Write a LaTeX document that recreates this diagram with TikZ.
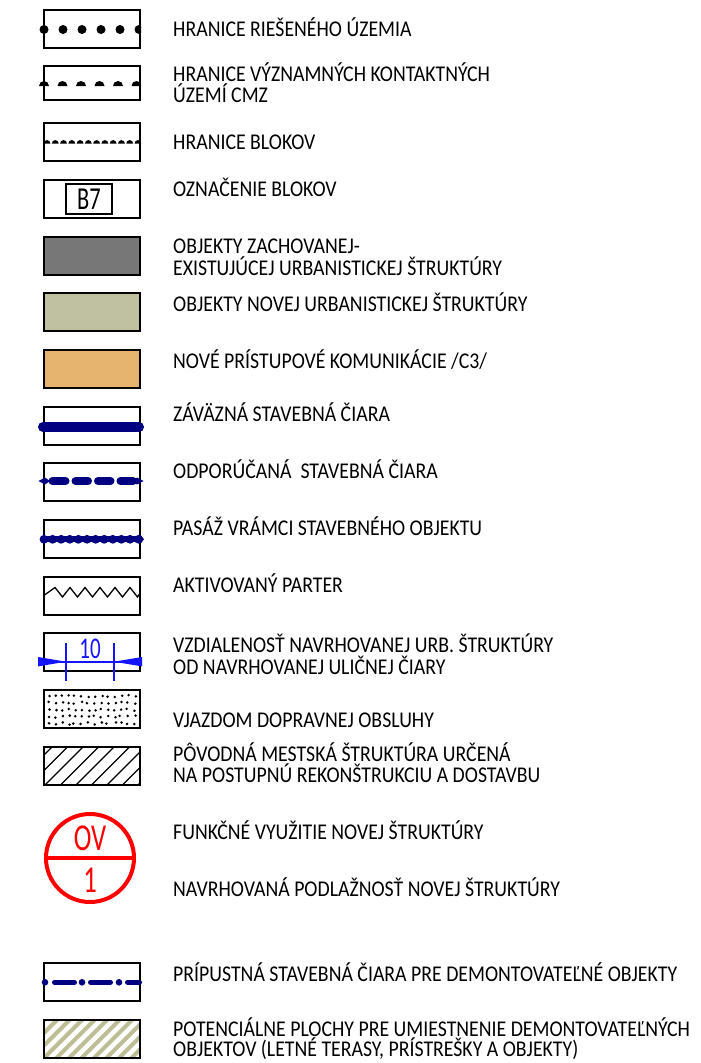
\documentclass[tikz,border=0pt]{standalone}
\usepackage{fontspec}
\setmainfont{Carlito}[FakeStretch=0.88]
\newfontfamily\narrowfont{Carlito}[FakeStretch=0.7]
\definecolor{navyc}{RGB}{0,0,128}
\definecolor{dimblue}{RGB}{20,20,255}
\definecolor{grayfill}{RGB}{119,119,119}
\definecolor{greenfill}{RGB}{192,193,160}
\definecolor{orangefill}{RGB}{230,180,110}
\definecolor{khaki}{RGB}{190,190,150}
\definecolor{redc}{RGB}{255,0,0}
\tikzset{
  box/.style={draw=black, line width=1.6pt, minimum width=96pt, minimum height=38pt, anchor=north west, inner sep=0pt, outer sep=0pt},
  lbl/.style={anchor=base west, inner sep=0pt, font=\fontsize{22.5}{20}\selectfont},
}
\begin{document}
\begin{tikzpicture}[x=1pt,y=-1pt]
\fill[white] (0,0) rectangle (701,1063);
\useasboundingbox (0,0) rectangle (701,1063);

% 1 boundary of area - dots
\begin{scope}
\clip (39,20) rectangle (141,40);
\foreach \i in {0,...,5} \fill (44+19*\i,29.5) circle[radius=4.5pt];
\end{scope}
\node[box] (b1) at (44,10) {};
\node[lbl] (t1) at (173,36.5) {HRANICE RIEŠENÉHO ÚZEMIA};

% 2 contact areas - half dots
\begin{scope}
\clip (39,70) rectangle (141,95);
\foreach \i in {0,...,5} \fill (44+18.5*\i-5,86) arc[start angle=180,end angle=360,radius=5] -- cycle;
\end{scope}
\node[box, minimum height=34pt] (b2) at (44,66) {};
\node[lbl] (t2a) at (173,81) {HRANICE VÝZNAMNÝCH KONTAKTNÝCH};
\node[lbl] (t2b) at (173,102.5) {ÚZEMÍ CMZ};

% 3 blocks boundary - small domes
\begin{scope}
\clip (40,130) rectangle (141,150);
\foreach \i in {0,...,11} \fill (47+8.27*\i-3.4,143.5) arc[start angle=180,end angle=360,radius=3.4] -- cycle;
\end{scope}
\node[box] (b3) at (44,123) {};
\node[lbl] (t3) at (173,149.5) {HRANICE BLOKOV};

% 4 block label
\node[box] (b4) at (44,180) {};
\node[draw=black, line width=2.2pt, minimum width=46pt, minimum height=30pt, inner sep=0pt, font=\narrowfont\fontsize{32}{32}\selectfont] (b7) at (89,199) {B7};
\node[lbl] (t4) at (173,196) {OZNAČENIE BLOKOV};

% 5 gray
\node[box, fill=grayfill] (b5) at (44,237) {};
\node[lbl] (t5a) at (173,253.5) {OBJEKTY ZACHOVANEJ-};
\node[lbl] (t5b) at (173,275) {EXISTUJÚCEJ URBANISTICKEJ ŠTRUKTÚRY};

% 6 green
\node[box, fill=greenfill] (b6) at (44,293) {};
\node[lbl] (t6) at (173,311) {OBJEKTY NOVEJ URBANISTICKEJ ŠTRUKTÚRY};

% 7 orange
\node[box, fill=orangefill] (b7box) at (44,350) {};
\node[lbl] (t7) at (173,368) {NOVÉ PRÍSTUPOVÉ KOMUNIKÁCIE /C3/};

% 8 binding building line
\node[box] (b8) at (44,407) {};
\draw[navyc, line width=10pt, line cap=round] (43,427) -- (139,427);
\node[lbl] (t8) at (173,421.5) {ZÁVÄZNÁ STAVEBNÁ ČIARA};

% 9 recommended building line
\node[box] (b9) at (44,463) {};
\begin{scope}[navyc]
\fill (38.5,481) -- (45,477.5) -- (50,481) -- (45,484.5) -- cycle;
\fill (143.5,481) -- (137,477.5) -- (132,481) -- (137,484.5) -- cycle;
\foreach \a/\b in {48.5/69.5,71.5/92,94/114.5,116.5/137}
  \draw[line width=8pt, line cap=round] (\a+4,481) -- (\b-4,481);
\end{scope}
\node[lbl] (t9) at (173,478.5) {ODPORÚČANÁ\ \ STAVEBNÁ ČIARA};

% 10 passage
\node[box] (b10) at (44,520) {};
\begin{scope}[navyc]
\draw[line width=6pt] (44,539.3) -- (141,539.3);
\fill (141,535.5) -- (144,539.3) -- (141,543) -- cycle;
\foreach \i in {0,...,11} \fill (44+8.6*\i,539.3) circle[radius=4.4pt];
\end{scope}
\node[lbl] (t10) at (173,535.5) {PASÁŽ VRÁMCI STAVEBNÉHO OBJEKTU};

% 11 activated ground floor
\node[box] (b11) at (44,577) {};
\draw[line width=1.3pt, line join=miter]
  (44.5,595) -- (55,587.5) -- (62.5,597) -- (70,587.5) -- (77.5,597) -- (85,587.5) -- (92.5,597)
  -- (100,587.5) -- (107.5,597) -- (115,587.5) -- (122.5,597) -- (130,587.5) -- (137.5,597) -- (139.5,594);
\node[lbl] (t11) at (173,592.5) {AKTIVOVANÝ PARTER};

% 12 distance
\node[box] (b12) at (44,633) {};
\begin{scope}[dimblue]
\draw[line width=1.6pt] (38,661.7) -- (142,661.7);
\draw[line width=2pt] (66,643) -- (66,681);
\draw[line width=2pt] (114,643) -- (114,681);
\fill (38,657) -- (66,661.7) -- (38,666.4) -- cycle;
\fill (142,657) -- (114,661.7) -- (142,666.4) -- cycle;
\node[inner sep=0pt, font=\narrowfont\fontsize{30}{30}\selectfont, text=dimblue] (ten) at (90,648.5) {10};
\end{scope}
\node[lbl] (t12a) at (173,652.5) {VZDIALENOSŤ NAVRHOVANEJ URB. ŠTRUKTÚRY};
\node[lbl] (t12b) at (173,674) {OD NAVRHOVANEJ ULIČNEJ ČIARY};

% 13 entrance - stipple
\pgfmathsetseed{11}
\foreach \r in {0,...,4}
  \foreach \c in {0,...,13}{
    \pgfmathsetmacro{\xx}{48.5+6.6*\c+1.6*rand}
    \pgfmathsetmacro{\yy}{696+6.9*\r+1.2*rand}
    \fill (\xx,\yy) circle[radius=1.4pt];
  }
\node[box, line width=2.8pt] (b13) at (44,690) {};
\node[lbl] (t13) at (173,727.5) {VJAZDOM DOPRAVNEJ OBSLUHY};

% 14 hatch
\begin{scope}
\clip (44,747) rectangle (140,785);
\foreach \i in {-3,...,7} \draw[line width=1.3pt] (45+15.5*\i,785) -- ++(40,-40);
\end{scope}
\node[box] (b14) at (44,747) {};
\node[lbl] (t14a) at (173,761) {PÔVODNÁ MESTSKÁ ŠTRUKTÚRA URČENÁ};
\node[lbl] (t14b) at (173,782.5) {NA POSTUPNÚ REKONŠTRUKCIU A DOSTAVBU};

% 15 circle
\node[circle, draw=redc, line width=4pt, minimum size=88pt, inner sep=0pt] (fc) at (90,858) {};
\draw[redc, line width=4pt] (fc.west) -- (fc.east);
\node[inner sep=0pt, text=redc, font=\narrowfont\fontsize{38}{38}\selectfont] (ov) at (90,838.5) {OV};
\node[inner sep=0pt, text=redc, font=\narrowfont\fontsize{38}{38}\selectfont] (one) at (90,880) {1};
\node[lbl] (t15) at (173,839.5) {FUNKČNÉ VYUŽITIE NOVEJ ŠTRUKTÚRY};
\node[lbl] (t16) at (173,896.5) {NAVRHOVANÁ PODLAŽNOSŤ NOVEJ ŠTRUKTÚRY};

% 16 dash-dot
\node[box] (b16) at (44,963) {};
\begin{scope}[navyc]
\foreach \x in {45,82,119} \fill (\x,982.3) circle[radius=3.3pt];
\foreach \a/\b in {52/77,88/113,125/142}
  \draw[line width=5.5pt, line cap=round] (\a+2.7,982.3) -- (\b-2.7,982.3);
\end{scope}
\node[lbl] (t17) at (173,981.5) {PRÍPUSTNÁ STAVEBNÁ ČIARA PRE DEMONTOVATEĽNÉ OBJEKTY};

% 17 khaki hatch
\begin{scope}
\clip (44,1020) rectangle (140,1058);
\foreach \i in {-4,...,9} \draw[khaki, line width=4pt] (44+12.5*\i,1058) -- ++(40,-40);
\end{scope}
\node[box] (b17) at (44,1020) {};
\node[lbl] (t18a) at (173,1036) {POTENCIÁLNE PLOCHY PRE UMIESTNENIE DEMONTOVATEĽNÝCH};
\node[lbl] (t18b) at (173,1056.5) {OBJEKTOV (LETNÉ TERASY, PRÍSTREŠKY A OBJEKTY)};
\end{tikzpicture}
\end{document}
